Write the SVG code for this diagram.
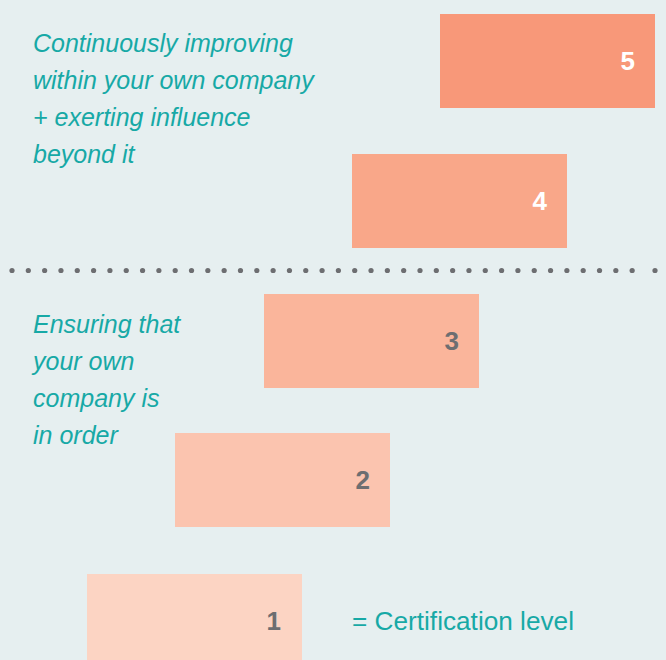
<svg xmlns="http://www.w3.org/2000/svg" width="666" height="660" viewBox="0 0 666 660">
  <style>
    .desc { font-family: "Liberation Sans", Arial, sans-serif; font-style: italic; font-size: 25px; fill: #17A9A6; }
    .num { font-family: "Liberation Sans", Arial, sans-serif; font-weight: bold; font-size: 26px; text-anchor: end; }
    .light { fill: #FFFFFF; }
    .dark { fill: #6D6E71; }
    .legend { font-family: "Liberation Sans", Arial, sans-serif; font-size: 26px; fill: #17A9A6; }
  </style>
  <defs>
    <circle id="dot" r="2.6" fill="#6D6E71"/>
  </defs>
  <rect x="0" y="0" width="666" height="660" fill="#E6EFF0"/>

  <g id="desc-upper">
    <text class="desc" x="33" y="52">Continuously improving</text>
    <text class="desc" x="33" y="89">within your own company</text>
    <text class="desc" x="33" y="126">+ exerting influence</text>
    <text class="desc" x="33" y="163">beyond it</text>
  </g>

  <g id="desc-lower">
    <text class="desc" x="33" y="333">Ensuring that</text>
    <text class="desc" x="33" y="370">your own</text>
    <text class="desc" x="33" y="407">company is</text>
    <text class="desc" x="33" y="444">in order</text>
  </g>

  <g id="level5">
    <rect x="440" y="14" width="215" height="94" fill="#F89879"/>
    <text class="num light" x="635" y="70">5</text>
  </g>
  <g id="level4">
    <rect x="352" y="154" width="215" height="94" fill="#F9A789"/>
    <text class="num light" x="547" y="210">4</text>
  </g>
  <g id="level3">
    <rect x="264" y="294" width="215" height="94" fill="#FAB59B"/>
    <text class="num dark" x="459" y="350">3</text>
  </g>
  <g id="level2">
    <rect x="175" y="433" width="215" height="94" fill="#FBC4AF"/>
    <text class="num dark" x="370" y="489">2</text>
  </g>
  <g id="level1">
    <rect x="87" y="574" width="215" height="94" fill="#FCD4C3"/>
    <text class="num dark" x="281" y="630">1</text>
  </g>

  <g id="legend">
    <text class="legend" x="352" y="630" textLength="222" lengthAdjust="spacingAndGlyphs">= Certification level</text>
  </g>

  <g id="divider">
    <use href="#dot" x="12" y="270.5"/>
    <use href="#dot" x="28.32" y="270.5"/>
    <use href="#dot" x="44.64" y="270.5"/>
    <use href="#dot" x="60.96" y="270.5"/>
    <use href="#dot" x="77.28" y="270.5"/>
    <use href="#dot" x="93.6" y="270.5"/>
    <use href="#dot" x="109.92" y="270.5"/>
    <use href="#dot" x="126.24" y="270.5"/>
    <use href="#dot" x="142.56" y="270.5"/>
    <use href="#dot" x="158.88" y="270.5"/>
    <use href="#dot" x="175.2" y="270.5"/>
    <use href="#dot" x="191.52" y="270.5"/>
    <use href="#dot" x="207.84" y="270.5"/>
    <use href="#dot" x="224.16" y="270.5"/>
    <use href="#dot" x="240.48" y="270.5"/>
    <use href="#dot" x="256.8" y="270.5"/>
    <use href="#dot" x="273.12" y="270.5"/>
    <use href="#dot" x="289.44" y="270.5"/>
    <use href="#dot" x="305.76" y="270.5"/>
    <use href="#dot" x="322.08" y="270.5"/>
    <use href="#dot" x="338.4" y="270.5"/>
    <use href="#dot" x="354.72" y="270.5"/>
    <use href="#dot" x="371.04" y="270.5"/>
    <use href="#dot" x="387.36" y="270.5"/>
    <use href="#dot" x="403.68" y="270.5"/>
    <use href="#dot" x="420" y="270.5"/>
    <use href="#dot" x="436.32" y="270.5"/>
    <use href="#dot" x="452.64" y="270.5"/>
    <use href="#dot" x="468.96" y="270.5"/>
    <use href="#dot" x="485.28" y="270.5"/>
    <use href="#dot" x="501.6" y="270.5"/>
    <use href="#dot" x="517.92" y="270.5"/>
    <use href="#dot" x="534.24" y="270.5"/>
    <use href="#dot" x="550.56" y="270.5"/>
    <use href="#dot" x="566.88" y="270.5"/>
    <use href="#dot" x="583.2" y="270.5"/>
    <use href="#dot" x="599.52" y="270.5"/>
    <use href="#dot" x="615.84" y="270.5"/>
    <use href="#dot" x="632.16" y="270.5"/>
    <use href="#dot" x="655" y="270.5"/>
  </g>
</svg>
